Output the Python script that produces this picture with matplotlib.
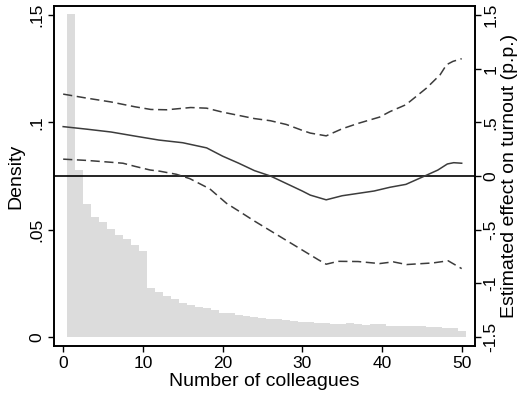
import matplotlib
matplotlib.use("Agg")
import matplotlib.pyplot as plt

plt.rcParams['font.family'] = ['Liberation Sans', 'DejaVu Sans']

# Histogram: density of number of colleagues (bins of width 1 centred on 1..50)
bin_centers = list(range(1, 51))
density = [0.1505, 0.0776, 0.0621, 0.0560, 0.0534, 0.0505, 0.0477, 0.0457, 0.0430, 0.0402,
           0.0229, 0.0210, 0.0192, 0.0178, 0.0159, 0.0148, 0.0140, 0.0136, 0.0126, 0.0114,
           0.0113, 0.0103, 0.0098, 0.0091, 0.0089, 0.0084, 0.0082, 0.0077, 0.0076, 0.0072,
           0.0071, 0.0067, 0.0066, 0.0061, 0.0061, 0.0065, 0.0061, 0.0055, 0.0059, 0.0061,
           0.0052, 0.0051, 0.0051, 0.0051, 0.0050, 0.0048, 0.0048, 0.0041, 0.0041, 0.0027]

# Estimated effect (p.p.)
est_x = [0, 3, 6, 9, 12, 15, 18, 20, 22, 24, 26, 28, 30, 31, 33, 35, 37, 39, 41, 43, 45, 47, 48.2, 49, 50]
est_y = [0.46, 0.436, 0.41, 0.372, 0.335, 0.31, 0.262, 0.185, 0.12, 0.05, 0.0, -0.07, -0.14, -0.178,
         -0.222, -0.184, -0.162, -0.14, -0.105, -0.078, -0.012, 0.055, 0.112, 0.124, 0.119]

upper_x = [0, 3, 6, 9, 11, 13, 16, 18, 20, 22, 24, 26, 28, 30, 31, 33, 35, 37, 39.7, 41, 43, 45.6, 47.3, 48.1, 48.9, 50]
upper_y = [0.763, 0.725, 0.69, 0.645, 0.62, 0.617, 0.638, 0.632, 0.595, 0.565, 0.535, 0.515, 0.48, 0.425,
           0.40, 0.374, 0.44, 0.49, 0.549, 0.60, 0.664, 0.82, 0.944, 1.037, 1.068, 1.093]

lower_x = [0, 3, 6, 7.5, 9, 10.9, 12.1, 14.2, 15.9, 18.4, 20.5, 22, 24, 26, 28, 30, 32, 33, 34.5, 37, 39.7, 41.4, 43.1, 46.4, 48.3, 50]
lower_y = [0.157, 0.145, 0.128, 0.119, 0.09, 0.056, 0.045, 0.016, -0.025, -0.12, -0.255, -0.325, -0.42,
           -0.51, -0.60, -0.69, -0.78, -0.822, -0.795, -0.797, -0.816, -0.80, -0.825, -0.81, -0.79, -0.863]

W, H = 519, 396
fig = plt.figure(figsize=(W / 100, H / 100), dpi=100)
ax = fig.add_axes([54 / W, (H - 346) / H, (475 - 54) / W, (346 - 6) / H])
ax2 = ax.twinx()

FS_TICK = 12.5
FS_TITLE = 14
ink = '#3c3c3c'

ax.bar(bin_centers, density, width=1.0, align='center', color='#dcdcdc', linewidth=0, zorder=1)
ax.set_xlim(-1.15, 51.67)
ax.set_ylim(-0.0042, 0.1542)
ax2.set_ylim(-0.0042 * 20 - 1.5, 0.1542 * 20 - 1.5)

ax2.axhline(0, color='black', linewidth=1.2, zorder=3)
ax2.plot(est_x, est_y, color=ink, linewidth=1.1, zorder=4)
ax2.plot(upper_x, upper_y, color=ink, linewidth=1.1, dashes=(6, 3), zorder=4)
ax2.plot(lower_x, lower_y, color=ink, linewidth=1.1, dashes=(6, 3), zorder=4)

ax.set_xticks([0, 10, 20, 30, 40, 50])
ax.set_xticklabels(['0', '10', '20', '30', '40', '50'], fontsize=FS_TICK)
ax.set_yticks([0, 0.05, 0.1, 0.15])
ax.set_yticklabels(['0', '.05', '.1', '.15'], fontsize=FS_TICK, rotation=90, va='center')
ax2.set_yticks([-1.5, -1, -0.5, 0, 0.5, 1, 1.5])
ax2.set_yticklabels(['-1.5', '-1', '-.5', '0', '.5', '1', '1.5'], fontsize=FS_TICK, rotation=90, va='center')

for a in (ax, ax2):
    a.tick_params(direction='out', length=4, width=1.0, colors='black', pad=3)
    for s in a.spines.values():
        s.set_linewidth(1.2)
        s.set_color('black')
ax2.tick_params(axis='y', pad=2)

ax.set_xlabel('Number of colleagues', fontsize=FS_TITLE, labelpad=2)
ax.set_ylabel('Density', fontsize=FS_TITLE)
ax2.set_ylabel('Estimated effect on turnout (p.p.)', fontsize=FS_TITLE)

axw = 475 - 54
ax.yaxis.set_label_coords((16 - 54) / axw, 0.5)
ax2.yaxis.set_label_coords((510 - 54) / axw, 0.5)
for lab in (ax.yaxis.label, ax2.yaxis.label):
    lab.set_verticalalignment('center')
    lab.set_horizontalalignment('center')
    lab.set_rotation_mode('anchor')

fig.savefig('out.png', dpi=100, facecolor='white')
